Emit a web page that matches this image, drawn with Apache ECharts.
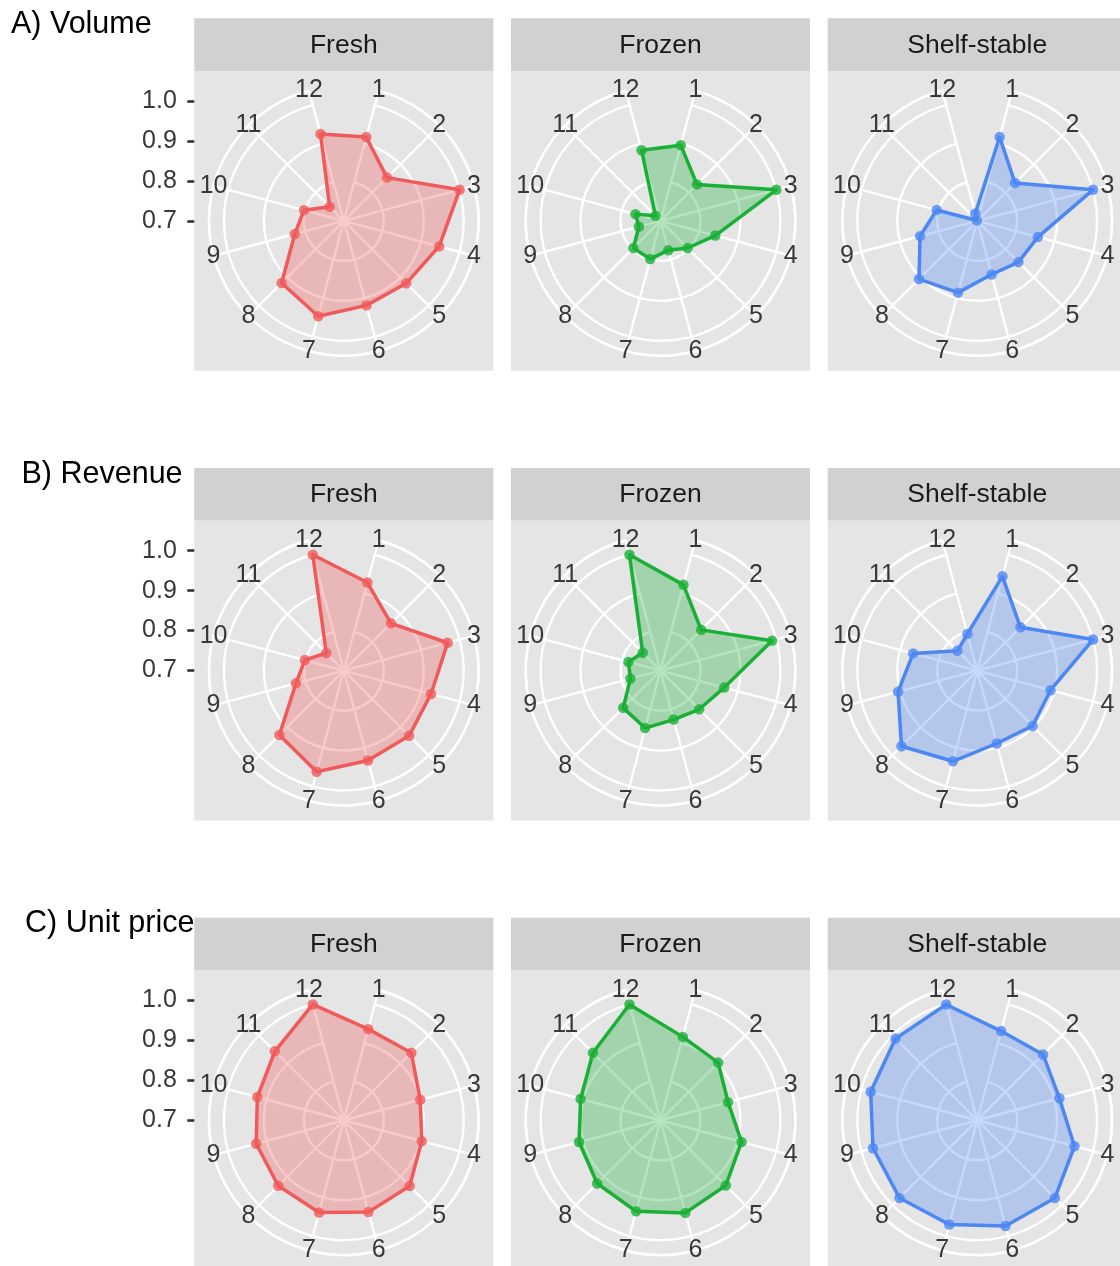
<!DOCTYPE html>
<html>
<head>
<meta charset="utf-8">
<script src="https://cdn.jsdelivr.net/npm/echarts@6/dist/echarts.min.js"></script>
<style>
  html, body { margin: 0; padding: 0; background: #ffffff; }
  #chart { width: 1120px; height: 1266px; }
</style>
</head>
<body>
<div id="chart"></div>
<script>
// Month labels around each radar (clockwise, starting just right of north)
const months = ['1', '2', '3', '4', '5', '6', '7', '8', '9', '10', '11', '12'];
const segments = ['Fresh', 'Frozen', 'Shelf-stable'];
const metricTitles = ['A) Volume', 'B) Revenue', 'C) Unit price'];
const radialTicks = [0.7, 0.8, 0.9, 1.0];

// Seasonal index (share of peak month), months 1..12
const volumeFresh        = [0.917, 0.853, 1.000, 0.947, 0.921, 0.919, 0.947, 0.920, 0.827, 0.803, 0.750, 0.925];
const volumeFrozen       = [0.896, 0.829, 1.000, 0.842, 0.796, 0.776, 0.799, 0.796, 0.756, 0.765, 0.718, 0.883];
const volumeShelfStable  = [0.917, 0.834, 1.000, 0.857, 0.846, 0.839, 0.886, 0.906, 0.848, 0.805, 0.701, 0.719];

const revenueFresh       = [0.928, 0.867, 0.969, 0.926, 0.931, 0.933, 0.962, 0.928, 0.824, 0.801, 0.762, 1.000];
const revenueFrozen      = [0.922, 0.844, 0.989, 0.865, 0.837, 0.827, 0.849, 0.832, 0.778, 0.783, 0.763, 1.000];
const revenueShelfStable = [0.944, 0.853, 1.000, 0.890, 0.896, 0.889, 0.935, 0.968, 0.905, 0.866, 0.770, 0.795];

const priceFresh         = [0.936, 0.939, 0.898, 0.902, 0.933, 0.938, 0.939, 0.932, 0.927, 0.924, 0.944, 1.000];
const priceFrozen        = [0.916, 0.904, 0.875, 0.910, 0.931, 0.940, 0.936, 0.924, 0.911, 0.907, 0.939, 1.000];
const priceShelfStable   = [0.931, 0.933, 0.913, 0.952, 0.975, 0.974, 0.970, 0.975, 0.970, 0.976, 0.989, 1.000];

const rows = [
  [volumeFresh, volumeFrozen, volumeShelfStable],
  [revenueFresh, revenueFrozen, revenueShelfStable],
  [priceFresh, priceFrozen, priceShelfStable]
];

const segmentColors = ['#F05A5A', '#1AAF36', '#4D87F2'];
const segmentFills  = ['rgba(240,90,90,0.32)', 'rgba(26,175,54,0.32)', 'rgba(77,135,242,0.32)'];

// ---- layout of the facet grid ----
const FONT = "'Liberation Sans', Arial, Helvetica, sans-serif";
const AXIS_TEXT = '#383838';
const panelLeft = [194.3, 511, 827.7];
const panelW = 299;
const stripTop = [18.3, 468, 917.7];
const stripH = 52.7;
const panelH = 299.7;
const rUnit = 0.4 * panelH;      // radius of the 1.0 ring
const rOuter = 0.45 * panelH;    // outer ring / label ring
const rMin = 0.7, rTop = 1.0;
const rOuterValue = rMin + (rTop - rMin) * rOuter / rUnit;
const GRID_W = 2.4;

const option = {
  animation: false,
  backgroundColor: '#ffffff',
  textStyle: { fontFamily: FONT },
  polar: [], angleAxis: [], radiusAxis: [],
  grid: [], xAxis: [], yAxis: [],
  series: [],
  graphic: { elements: [] }
};

const gfx = option.graphic.elements;

rows.forEach(function (rowData, r) {
  const top = stripTop[r];
  const cy = top + stripH + panelH / 2;

  // row title
  gfx.push({
    type: 'text', x: [11, 21.5, 25][r], y: [25, 474.5, 924][r], z: 10,
    style: { text: metricTitles[r], fill: '#000000', fontSize: 30.5, fontFamily: FONT,
             align: 'left', verticalAlign: 'middle' }
  });

  // radial value axis at the left of the first facet
  option.grid.push({ left: panelLeft[0], top: cy - rUnit, width: 1, height: rUnit,
                     show: false, outerBoundsMode: 'none' });
  option.xAxis.push({ gridIndex: r, type: 'value', show: false });
  option.yAxis.push({
    gridIndex: r, type: 'value', min: radialTicks[0], max: radialTicks[radialTicks.length - 1], interval: 0.1,
    axisLine: { show: false },
    axisTick: { show: true, length: 7, lineStyle: { color: '#333333', width: 2.6 } },
    splitLine: { show: false },
    axisLabel: { color: AXIS_TEXT, fontSize: 25, fontFamily: FONT, margin: 17.5,
                 formatter: function (v) { return v.toFixed(1); } }
  });

  rowData.forEach(function (vals, c) {
    const k = r * 3 + c;
    const cx = panelLeft[c] + panelW / 2;

    // strip + panel background
    gfx.push({ type: 'rect', z: -100, silent: true,
      shape: { x: panelLeft[c], y: top, width: panelW, height: stripH },
      style: { fill: '#D1D1D1' } });
    gfx.push({ type: 'rect', z: -100, silent: true,
      shape: { x: panelLeft[c], y: top + stripH, width: panelW, height: panelH },
      style: { fill: '#E5E5E5' } });
    gfx.push({ type: 'text', z: 10, x: cx, y: top + stripH / 2 + 0.8,
      style: { text: segments[c], fill: '#1A1A1A', fontSize: 26.5, fontFamily: FONT,
               align: 'center', verticalAlign: 'middle' } });

    option.polar.push({ center: [cx, cy], radius: rOuter });
    option.angleAxis.push({
      polarIndex: k, type: 'category', data: months, boundaryGap: false,
      startAngle: 75, clockwise: true,
      axisLine: { show: true, lineStyle: { color: '#ffffff', width: GRID_W } },
      axisTick: { show: false },
      axisLabel: { show: false },
      splitLine: { show: true, lineStyle: { color: '#ffffff', width: GRID_W } }
    });
    option.radiusAxis.push({
      polarIndex: k, type: 'value', min: rMin, max: rOuterValue, interval: 0.1,
      axisLine: { show: false }, axisTick: { show: false }, axisLabel: { show: false },
      splitLine: { show: true, lineStyle: { color: '#ffffff', width: GRID_W } }
    });

    const pts = vals.map(function (v, i) { return [v, i]; });

    // filled closed outline
    option.series.push({
      type: 'custom', coordinateSystem: 'polar', polarIndex: k, z: 2, silent: true,
      data: pts,
      renderItem: function (params, api) {
        if (params.dataIndex !== 0) return null;
        const poly = vals.map(function (v, i) { return api.coord([v, i]); });
        return {
          type: 'polygon',
          shape: { points: poly },
          style: { fill: segmentFills[c], stroke: segmentColors[c], lineWidth: 3.5, lineJoin: 'round' }
        };
      }
    });
    // monthly points
    option.series.push({
      type: 'scatter', coordinateSystem: 'polar', polarIndex: k, z: 3, silent: true,
      data: pts, symbol: 'circle', symbolSize: 10.5,
      itemStyle: { color: segmentColors[c] }
    });
    // month labels centred on the outer ring
    option.series.push({
      type: 'custom', coordinateSystem: 'polar', polarIndex: k, z: 4, silent: true,
      data: months.map(function (m, i) { return [rOuterValue, i]; }),
      renderItem: function (params, api) {
        const p = api.coord([api.value(0), api.value(1)]);
        return {
          type: 'text', x: p[0], y: p[1],
          style: { text: months[params.dataIndex], fill: AXIS_TEXT, fontSize: 25, fontFamily: FONT,
                   align: 'center', verticalAlign: 'middle' }
        };
      }
    });
  });
});

const chart = echarts.init(document.getElementById('chart'), null, { renderer: 'canvas' });
chart.setOption(option);
</script>
</body>
</html>
